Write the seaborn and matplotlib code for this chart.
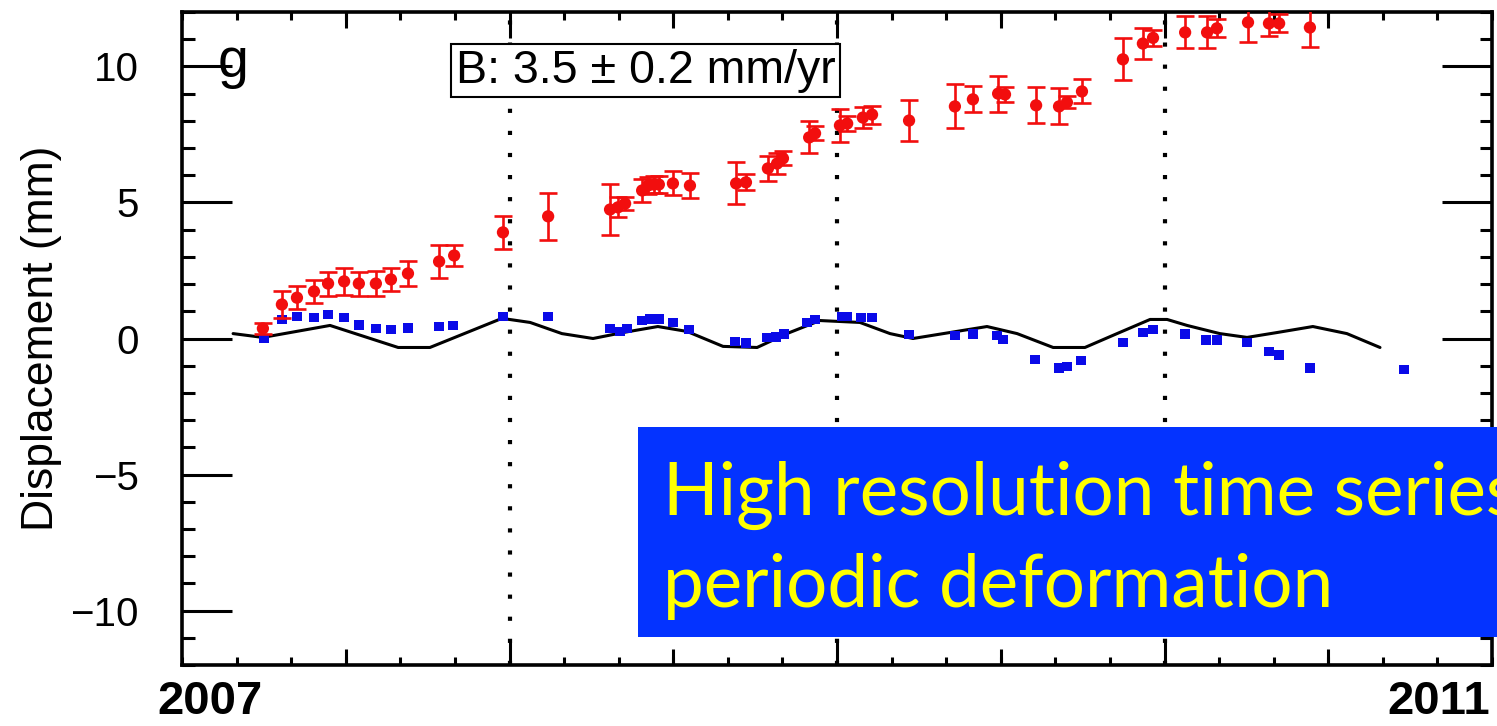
import matplotlib
matplotlib.use("Agg")
import matplotlib.pyplot as plt
import seaborn as sns
import numpy as np
from matplotlib.ticker import FixedLocator, MultipleLocator, NullLocator
from matplotlib.patches import Rectangle

# ---------------- data ----------------
red_t = [2007.247, 2007.305, 2007.351, 2007.403, 2007.446, 2007.495, 2007.540, 2007.592,
         2007.638, 2007.690, 2007.785, 2007.831, 2007.980, 2008.118, 2008.307, 2008.331,
         2008.353, 2008.405, 2008.423, 2008.441, 2008.456, 2008.499, 2008.551, 2008.692,
         2008.722, 2008.789, 2008.817, 2008.835, 2008.915, 2008.933, 2009.009, 2009.031,
         2009.079, 2009.107, 2009.220, 2009.360, 2009.415, 2009.492, 2009.513, 2009.608,
         2009.678, 2009.702, 2009.748, 2009.873, 2009.934, 2009.965, 2010.063, 2010.130,
         2010.160, 2010.255, 2010.319, 2010.350, 2010.444]
red_disp = [0.37, 1.25, 1.50, 1.73, 2.02, 2.10, 2.02, 2.02,
            2.17, 2.39, 2.83, 3.05, 3.90, 4.49, 4.74, 4.82,
            4.96, 5.44, 5.62, 5.66, 5.66, 5.70, 5.62, 5.70,
            5.74, 6.25, 6.43, 6.62, 7.39, 7.54, 7.83, 7.90,
            8.12, 8.23, 8.01, 8.53, 8.79, 9.00, 8.97, 8.57,
            8.53, 8.68, 9.08, 10.26, 10.84, 11.05, 11.25, 11.25,
            11.40, 11.62, 11.58, 11.58, 11.43]
red_err = [0.20, 0.51, 0.43, 0.41, 0.44, 0.50, 0.44, 0.47,
           0.41, 0.46, 0.61, 0.40, 0.62, 0.87, 0.95, 0.37,
           0.25, 0.44, 0.30, 0.30, 0.30, 0.44, 0.46, 0.77,
           0.29, 0.46, 0.37, 0.26, 0.59, 0.26, 0.59, 0.26,
           0.40, 0.33, 0.74, 0.81, 0.48, 0.66, 0.26, 0.66,
           0.66, 0.22, 0.44, 0.77, 0.57, 0.30, 0.59, 0.59,
           0.33, 0.74, 0.48, 0.33, 0.70]

blue_t = [2007.250, 2007.305, 2007.351, 2007.403, 2007.446, 2007.495, 2007.540, 2007.592,
          2007.638, 2007.690, 2007.785, 2007.827, 2007.980, 2008.118, 2008.307, 2008.337,
          2008.359, 2008.405, 2008.429, 2008.456, 2008.499, 2008.548, 2008.689, 2008.722,
          2008.786, 2008.814, 2008.838, 2008.908, 2008.933, 2009.015, 2009.031, 2009.073,
          2009.107, 2009.220, 2009.360, 2009.415, 2009.489, 2009.507, 2009.605, 2009.678,
          2009.702, 2009.745, 2009.873, 2009.934, 2009.965, 2010.063, 2010.127, 2010.160,
          2010.252, 2010.319, 2010.350, 2010.444, 2010.731]
blue_disp = [0.00, 0.70, 0.81, 0.77, 0.88, 0.77, 0.51, 0.37,
             0.33, 0.40, 0.44, 0.48, 0.81, 0.81, 0.37, 0.26,
             0.37, 0.66, 0.73, 0.73, 0.59, 0.33, -0.11, -0.18,
             0.04, 0.07, 0.18, 0.59, 0.70, 0.81, 0.81, 0.77,
             0.77, 0.15, 0.11, 0.18, 0.11, -0.04, -0.77, -1.07,
             -1.03, -0.81, -0.15, 0.22, 0.33, 0.18, -0.07, -0.07,
             -0.15, -0.48, -0.62, -1.07, -1.14]

model_t = [2007.156, 2007.247, 2007.452, 2007.660, 2007.757, 2007.977, 2008.063, 2008.160,
           2008.255, 2008.347, 2008.453, 2008.542, 2008.652, 2008.756, 2008.847, 2008.948,
           2009.070, 2009.162, 2009.232, 2009.345, 2009.458, 2009.550, 2009.660, 2009.757,
           2009.855, 2009.956, 2010.008, 2010.069, 2010.169, 2010.252, 2010.344, 2010.453,
           2010.557, 2010.658]
model_disp = [0.18, 0.04, 0.48, -0.33, -0.33, 0.74, 0.59, 0.18,
              0.00, 0.22, 0.44, 0.26, -0.29, -0.33, 0.18, 0.66,
              0.59, 0.18, 0.00, 0.22, 0.44, 0.18, -0.33, -0.33,
              0.18, 0.70, 0.70, 0.48, 0.18, 0.04, 0.22, 0.44,
              0.18, -0.33]

year_lines = [2008, 2009, 2010]
half_years = [2007.5, 2008.5, 2009.5, 2010.5]
y_ticks = [-10, -5, 0, 5, 10]
rate_label = "B: 3.5 \u00b1 0.2 mm/yr"
panel_label = "g"
y_label = "Displacement (mm)"
overlay_lines = ["High resolution time series", "periodic deformation"]
year_labels = ["2007", "2011"]

# ---------------- style ----------------
sns.set_theme(style="ticks")
plt.rcParams["font.family"] = ["Liberation Sans", "DejaVu Sans"]
for k in ["text.color", "axes.labelcolor", "xtick.color", "ytick.color", "axes.edgecolor"]:
    plt.rcParams[k] = "black"

W, H = 1497, 726
fig = plt.figure(figsize=(W / 100, H / 100), dpi=100)
ax = fig.add_axes([182 / W, 1 - 665 / H, 1310 / W, 653 / H])

RED = "#f20e0e"
BLUE = "#0a0ae8"

# dotted year lines
for yr in year_lines:
    ax.axvline(yr, color="black", lw=3.0, linestyle=(0, (1, 4.3)), zorder=1)

# model curve
sns.lineplot(x=model_t, y=model_disp, sort=False, estimator=None, color="black",
             lw=2.2, ax=ax, zorder=2)
# blue squares
sns.scatterplot(x=blue_t, y=blue_disp, marker="s", s=50, color=BLUE, edgecolor="none",
                ax=ax, zorder=3)
# red points with error bars
ax.errorbar(red_t, red_disp, yerr=red_err, fmt="none", ecolor=RED, elinewidth=1.9,
            capsize=6.5, capthick=1.9, zorder=4)
sns.scatterplot(x=red_t, y=red_disp, marker="o", s=78, color=RED, edgecolor="none",
                ax=ax, zorder=5)

ax.set_xlim(2007, 2011)
ax.set_ylim(-12, 12)

# ticks
ax.xaxis.set_major_locator(FixedLocator(year_lines))
ax.xaxis.set_minor_locator(MultipleLocator(1 / 6))
ax.yaxis.set_major_locator(FixedLocator(y_ticks))
ax.yaxis.set_minor_locator(MultipleLocator(1))
ax.tick_params(axis="x", which="major", direction="in", length=19, width=2.2,
               top=True, bottom=True, labelbottom=False)
ax.tick_params(axis="x", which="minor", direction="in", length=6, width=2.2,
               top=True, bottom=True)
ax.tick_params(axis="y", which="major", direction="in", length=36, width=2.2,
               left=True, right=True, labelsize=29, pad=31)
ax.tick_params(axis="y", which="minor", direction="in", length=9, width=2.2,
               left=True, right=True)
for sp in ax.spines.values():
    sp.set_linewidth(2.6)
    sp.set_color("black")

for loc in ["bottom", "top"]:
    sec = ax.secondary_xaxis(loc)
    sec.set_xticks(half_years)
    sec.xaxis.set_minor_locator(NullLocator())
    sec.tick_params(direction="in", length=11.5, width=2.2, labelbottom=False,
                    labeltop=False)
    for sp in sec.spines.values():
        sp.set_visible(False)

ax.set_xlabel("")
ax.set_ylabel(y_label, fontsize=32)
ax.yaxis.set_label_coords(-0.0916, 0.5)

ax.text(0.0275, 0.900, panel_label, transform=ax.transAxes, fontsize=40,
        ha="left", va="baseline")
ax.text(0.3538, 0.910, rate_label, transform=ax.transAxes, fontsize=33.5,
        ha="center", va="center", zorder=6,
        bbox=dict(boxstyle="square,pad=0.1", fc="white", ec="black", lw=1.5))

# overlay box from the slide
fig.add_artist(Rectangle((638 / W, 1 - 637 / H), 1.0, 210 / H,
                         transform=fig.transFigure, facecolor="#0433ff",
                         edgecolor="none", zorder=10))
fig.text(663 / W, 1 - 515 / H, overlay_lines[0], fontsize=52.5, color="#ffff00",
         family=["Lato", "DejaVu Sans"], ha="left", va="baseline", zorder=11)
fig.text(663 / W, 1 - 607 / H, overlay_lines[1], fontsize=52.5, color="#ffff00",
         family=["Lato", "DejaVu Sans"], ha="left", va="baseline", zorder=11)

fig.text(210 / W, 1 - 714 / H, year_labels[0], fontsize=34, fontweight="bold",
         ha="center", va="baseline")
fig.text(1387 / W, 1 - 714 / H, year_labels[1], fontsize=34, fontweight="bold",
         ha="left", va="baseline")

fig.savefig("out.png", dpi=100)
